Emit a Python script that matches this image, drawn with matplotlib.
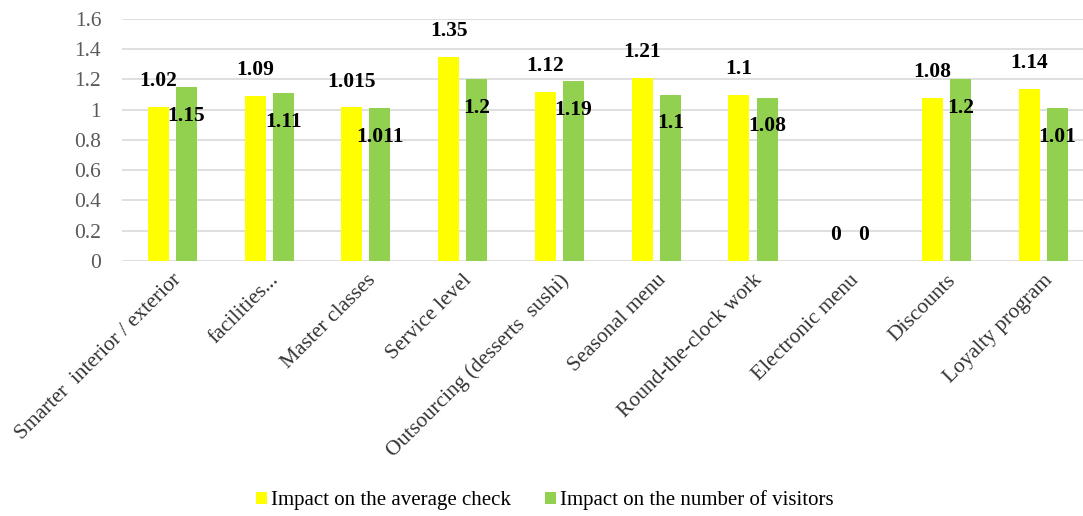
import matplotlib
matplotlib.use("Agg")
import matplotlib.pyplot as plt
import numpy as np

categories = [
    "Smarter  interior / exterior",
    "facilities...",
    "Master classes",
    "Service level",
    "Outsourcing (desserts  sushi)",
    "Seasonal menu",
    "Round-the-clock work",
    "Electronic menu",
    "Discounts",
    "Loyalty program",
]
avg_check = [1.02, 1.09, 1.015, 1.35, 1.12, 1.21, 1.1, 0, 1.08, 1.14]
visitors = [1.15, 1.11, 1.011, 1.2, 1.19, 1.1, 1.08, 0, 1.2, 1.01]
avg_labels = ["1.02", "1.09", "1.015", "1.35", "1.12", "1.21", "1.1", "0", "1.08", "1.14"]
vis_labels = ["1.15", "1.11", "1.011", "1.2", "1.19", "1.1", "1.08", "0", "1.2", "1.01"]
series_names = ["Impact on the average check", "Impact on the number of visitors"]
yticks = [0, 0.2, 0.4, 0.6, 0.8, 1, 1.2, 1.4, 1.6]
ytick_labels = ["0", "0.2", "0.4", "0.6", "0.8", "1", "1.2", "1.4", "1.6"]

plt.rcParams["font.family"] = ["Liberation Serif", "DejaVu Serif"]

fig = plt.figure(figsize=(10.83, 5.16), dpi=100)
ax = fig.add_axes([0.1127, 0.4942, 0.8873, 0.469])

x = np.arange(len(categories))
w = 0.217
off = 0.145
yellow = "#FFFF00"
green = "#92D050"
fs = 15.5

ax.bar(x - off, avg_check, width=w, color=yellow, label=series_names[0], zorder=3)
ax.bar(x + off, visitors, width=w, color=green, label=series_names[1], zorder=3)

lab_kw = dict(ha="center", va="center", fontsize=fs, fontweight="bold", color="black", zorder=4)
for xi, v, s in zip(x, avg_check, avg_labels):
    ax.text(xi - off, v + 0.17, s, **lab_kw)
for xi, v, s in zip(x, visitors, vis_labels):
    dy = -0.19 if v > 0 else 0.17
    ax.text(xi + off, v + dy, s, **lab_kw)

ax.set_ylim(0, 1.6)
ax.set_xlim(-0.52, 9.41)
ax.set_yticks(yticks)
ax.set_yticklabels(ytick_labels, fontsize=fs, color="#595959")
ax.set_xticks(x)
ax.set_xticklabels(categories, rotation=45, ha="right", rotation_mode="anchor",
                   fontsize=fs, color="#333333")
ax.tick_params(axis="both", length=0)
ax.tick_params(axis="y", pad=15)
ax.tick_params(axis="x", pad=7)
ax.yaxis.grid(True, color="#D9D9D9", linewidth=1.2, zorder=0)
ax.set_axisbelow(True)
for sp in ax.spines.values():
    sp.set_visible(False)

fig.legend(loc="lower center", bbox_to_anchor=(0.503, -0.025), ncol=2, frameon=False,
           fontsize=15, handlelength=0.55, handleheight=0.55, handletextpad=0.2,
           columnspacing=1.6)

fig.savefig("out.png", dpi=100)
